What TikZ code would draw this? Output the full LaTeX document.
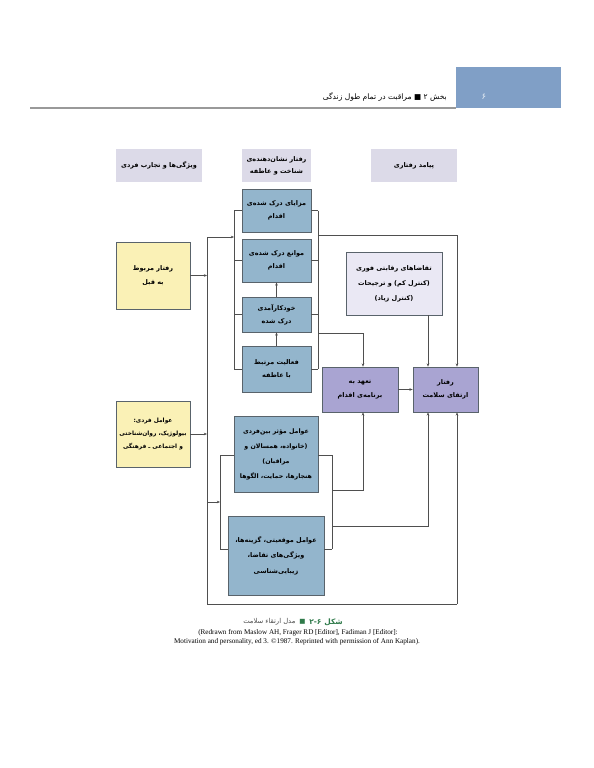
\documentclass[tikz,border=0pt]{standalone}
\usepackage{fontspec}
\setmainfont{Liberation Serif}
\newfontfamily\fafont[Script=Arabic]{DejaVu Sans}
\TeXXeTstate=1
\usetikzlibrary{arrows.meta}
\definecolor{boxblue}{HTML}{93B5CC}
\definecolor{boxyellow}{HTML}{FAF1B6}
\definecolor{boxpurple}{HTML}{A9A4D2}
\definecolor{boxlight}{HTML}{EAE8F4}
\definecolor{hdrlav}{HTML}{DCDAE8}
\definecolor{bandblue}{HTML}{809FC6}
\definecolor{boxline}{HTML}{59636B}
\definecolor{conn}{HTML}{4F4F4F}
\definecolor{capgreen}{HTML}{2F7A4A}
\newcommand{\RL}[1]{\beginR #1\endR}
\tikzset{
  box/.style={draw=boxline, line width=0.7pt, align=center, inner sep=1pt,
    font=\fontsize{6.5}{13.5}\selectfont\fafont\bfseries},
  bluebox/.style={box, fill=boxblue},
  yellowbox/.style={box, fill=boxyellow},
  purplebox/.style={box, fill=boxpurple},
  lightbox/.style={box, fill=boxlight},
  hdrbox/.style={fill=hdrlav, align=center, inner sep=1pt,
    font=\fontsize{6.5}{12}\selectfont\fafont\bfseries},
  conn/.style={draw=conn, line width=0.6pt},
  arr/.style={conn, -{Stealth[length=3.2pt,width=2.6pt]}},
}
\begin{document}
\begin{tikzpicture}[x=1bp,y=-1bp]
\useasboundingbox[fill=white] (0,0) rectangle (594,768);
% page header
\fill[bandblue] (456,67) rectangle (561,108);
\draw[draw=black!40, line width=1.2pt] (30,108) -- (456,108);
\node[anchor=east, inner sep=0pt, font=\fontsize{7.6}{8}\selectfont\fafont] (hdrtext) at (447,97) {\RL{بخش ۲ ■ مراقبت در تمام طول زندگی}};
\node[inner sep=0pt, text=white!80!bandblue, font=\fontsize{8.5}{9}\selectfont\fafont] (pagenum) at (484,97) {۶};

% column headers
\node[hdrbox, minimum width=86bp, minimum height=33bp] (h1) at (159,165.5) {\RL{ویژگی‌ها و تجارب فردی}};
\node[hdrbox, minimum width=69bp, minimum height=33bp] (h2) at (276.5,165.5) {\RL{رفتار نشان‌دهنده‌ی}\\\RL{شناخت و عاطفه}};
\node[hdrbox, minimum width=86bp, minimum height=33bp] (h3) at (414,165.5) {\RL{پیامد رفتاری}};

% blue column
\node[bluebox, minimum width=69bp, minimum height=43bp] (b1) at (276.5,210.5) {\RL{مزایای درک شده‌ی}\\\RL{اقدام}};
\node[bluebox, minimum width=69bp, minimum height=43bp] (b2) at (276.5,260.5) {\RL{موانع درک شده‌ی}\\\RL{اقدام}};
\node[bluebox, minimum width=69bp, minimum height=35bp] (b3) at (276.5,314.5) {\RL{خودکارآمدی}\\\RL{درک شده}};
\node[bluebox, minimum width=69bp, minimum height=46bp] (b4) at (276.5,369) {\RL{فعالیت مرتبط}\\\RL{با عاطفه}};
\node[bluebox, minimum width=84bp, minimum height=76bp, font=\fontsize{6.3}{15}\selectfont\fafont\bfseries] (b5) at (276,454) {\RL{عوامل مؤثر بین‌فردی}\\\RL{(خانواده، همسالان و}\\\RL{مراقبان)}\\\RL{هنجارها، حمایت، الگوها}};
\node[bluebox, minimum width=96bp, minimum height=79bp, font=\fontsize{6.5}{15.5}\selectfont\fafont\bfseries] (b6) at (276,555.5) {\RL{عوامل موقعیتی، گزینه‌ها،}\\\RL{ویژگی‌های تقاضا،}\\\RL{زیبایی‌شناسی}};

% yellow
\node[yellowbox, minimum width=74bp, minimum height=67bp] (y1) at (153,275.5) {\RL{رفتار مربوط}\\\RL{به قبل}};
\node[yellowbox, minimum width=74bp, minimum height=66bp, font=\fontsize{5.9}{13.5}\selectfont\fafont\bfseries] (y2) at (153,434) {\RL{عوامل فردی:}\\\RL{بیولوژیک، روان‌شناختی}\\\RL{و اجتماعی ـ فرهنگی}};

% outcome side
\node[lightbox, minimum width=96bp, minimum height=63bp, font=\fontsize{6.5}{15}\selectfont\fafont\bfseries] (cd) at (394,283.5) {\RL{تقاضاهای رقابتی فوری}\\\RL{(کنترل کم) و ترجیحات}\\\RL{(کنترل زیاد)}};
\node[purplebox, minimum width=76bp, minimum height=45bp] (cm) at (360,389.5) {\RL{تعهد به}\\\RL{برنامه‌ی اقدام}};
\node[purplebox, minimum width=65bp, minimum height=45bp] (hp) at (445.5,389.5) {\RL{رفتار}\\\RL{ارتقای سلامت}};

% coordinates
\coordinate (vtop) at (207,237);
\coordinate (vbot) at (207,604);
\coordinate (L1t) at (234,210.5);
\coordinate (L1b) at (234,369);
\coordinate (R1t) at (318,210.5);
\coordinate (R1b) at (318,369);
\coordinate (L2t) at (220,455);
\coordinate (L2b) at (220,549);
\coordinate (R2t) at (332,455);
\coordinate (R2b) at (332,549);
\coordinate (lbot) at (457,604);

% upper left bracket
\draw[conn] (L1t) -- (L1b);
\draw[conn] (L1t) -- (b1.west);
\draw[conn] (b2.west -| L1t) -- (b2.west);
\draw[conn] (b3.west -| L1t) -- (b3.west);
\draw[conn] (L1b) -- (b4.west);
% upper right bracket
\draw[conn] (R1t) -- (R1b);
\draw[conn] (b1.east) -- (R1t);
\draw[conn] (b2.east) -- (b2.east -| R1t);
\draw[conn] (b3.east) -- (b3.east -| R1t);
\draw[conn] (b4.east) -- (R1b);
% vertical arrows in blue column
\draw[arr] (b4.north) -- (b3.south);
\draw[arr] (b3.north) -- (b2.south);
% main left vertical
\draw[conn] (vtop) -- (vbot) -- (lbot);
\draw[arr] (lbot) -- (hp.south -| lbot);
\draw[arr] (vtop) -- (vtop -| L1t);
\draw[arr] (y1.east) -- (y1.east -| vtop);
\draw[arr] (y2.east) -- (y2.east -| vtop);
% to outcomes from upper bracket
\draw[arr] (R1t |- 0,235) -- (457,235) -- (hp.north -| 457,0);
\draw[arr] (R1t |- 0,333) -- (363,333) -- (cm.north -| 363,0);
\draw[arr] (cd.south -| 428,0) -- (hp.north -| 428,0);
\draw[arr] (cm.east) -- (hp.west);
% lower brackets
\draw[conn] (L2t) -- (L2b);
\draw[conn] (L2t) -- (b5.west |- L2t);
\draw[conn] (L2b) -- (b6.west |- L2b);
\draw[arr] (207,502) -- (L2t |- 0,502);
\draw[conn] (R2t) -- (R2b);
\draw[conn] (b5.east |- R2t) -- (R2t);
\draw[conn] (b6.east |- R2b) -- (R2b);
\draw[arr] (R2t |- 0,490) -- (363,490) -- (cm.south -| 363,0);
\draw[arr] (R2t |- 0,526) -- (428,526) -- (hp.south -| 428,0);

% caption
\node[anchor=east, inner sep=0pt, text=capgreen, font=\fontsize{7.5}{8}\selectfont\fafont\bfseries] (capA) at (343,622) {\RL{شکل}};
\node[anchor=east, inner sep=0pt, text=capgreen, font=\fontsize{7.5}{8}\selectfont\fafont\bfseries] (capN) at ([xshift=-2.5bp]capA.west) {۲-۶};
\node[anchor=east, inner sep=0pt, text=capgreen, font=\fontsize{6.5}{8}\selectfont\fafont] (capS) at ([xshift=-3.5bp]capN.west) {■};
\node[anchor=east, inner sep=0pt, text=black!70, font=\fontsize{6.8}{8}\selectfont\fafont] (capT) at ([xshift=-3.5bp]capS.west) {\RL{مدل ارتقاء سلامت}};
\node[inner sep=0pt, font=\fontsize{7.2}{8}\selectfont] (src1) at (298,633) {(Redrawn from Maslow AH, Frager RD [Editor], Fadiman J [Editor]:};
\node[inner sep=0pt, font=\fontsize{7.2}{8}\selectfont] (src2) at (297,642) {Motivation and personality, ed 3. \textcopyright1987. Reprinted with permission of Ann Kaplan).};
\end{tikzpicture}
\end{document}
